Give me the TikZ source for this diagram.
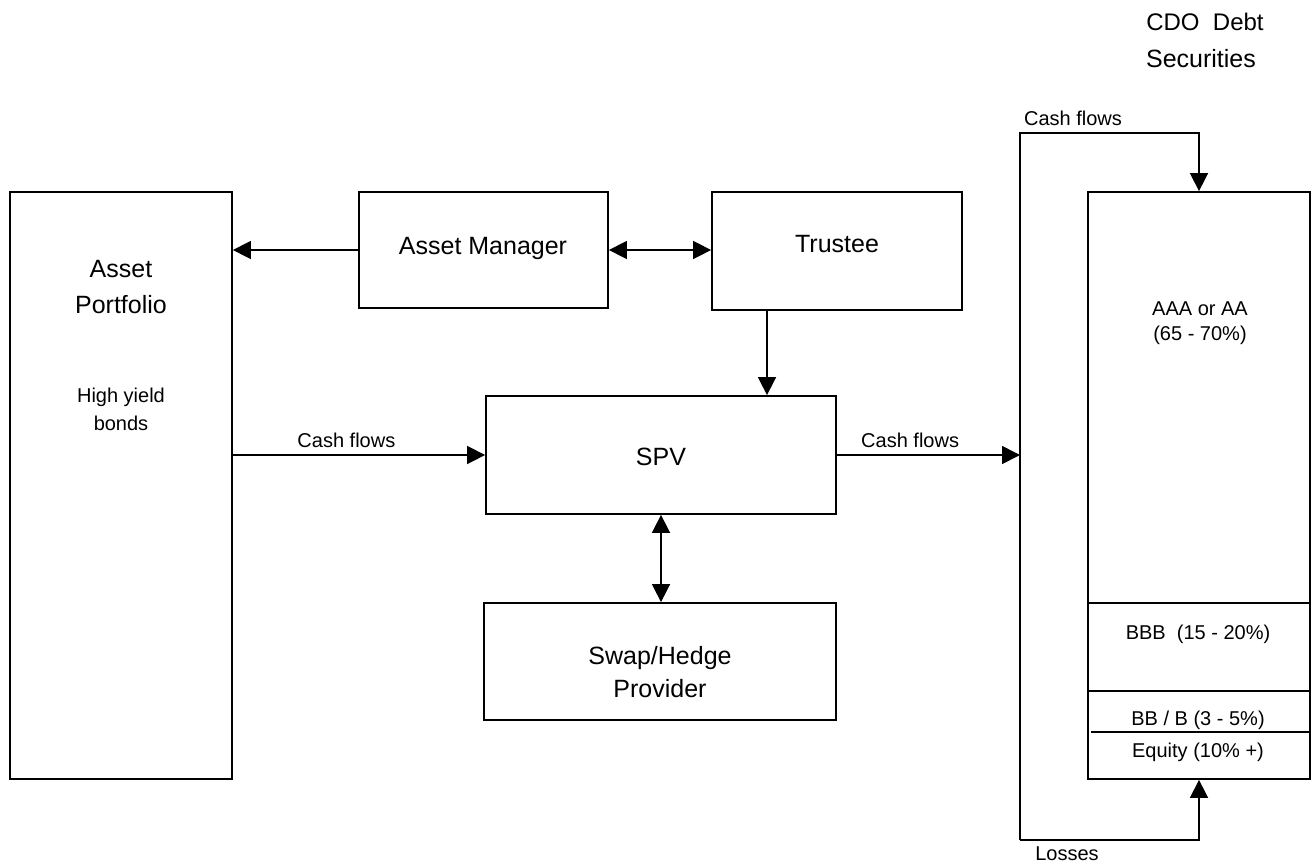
\documentclass[tikz,border=0pt]{standalone}
\usepackage{fontspec}
\setmainfont{Liberation Sans}
\usetikzlibrary{arrows.meta,fit,positioning}

\begin{document}
\begin{tikzpicture}[x=0.5pt,y=-0.5pt,
  >={Triangle[length=9pt,width=9pt]},
  box/.style={draw,line width=0.9pt,inner sep=0pt},
  line/.style={line width=0.8pt},
  big/.style={font=\fontsize{12.5}{15}\selectfont,anchor=base},
  small/.style={font=\fontsize{10}{12}\selectfont,anchor=base},
  lbl/.style={font=\fontsize{10}{12}\selectfont}]
\useasboundingbox (0,0) rectangle (1312,862);
% boxes
\node[box,fit={(10,192)(232,779)}] (port) {};
\node[box,fit={(359,192)(608,308)}] (am) {};
\node[box,fit={(712,192)(962,310)}] (tru) {};
\node[box,fit={(486,396)(836,514)}] (spv) {};
\node[box,fit={(484,603)(836,720)}] (swap) {};
\node[box,fit={(1088,192)(1310,779)}] (cdo) {};
% texts
\node[big] (portA) at (121,277) {Asset};
\node[big] (portB) at (121,313) {Portfolio};
\node[small] (portC) at (121,402) {High yield};
\node[small] (portD) at (121,430) {bonds};
\node[big] (amT) at (483,254) {Asset Manager};
\node[big] (truT) at (837,252) {Trustee};
\node[big] (spvT) at (661,465) {SPV};
\node[big] (swapA) at (660,664) {Swap/Hedge};
\node[big] (swapB) at (660,697) {Provider};
\node[big,font=\fontsize{12}{15}\selectfont] (cdoA) at (1205,30) {CDO\ \ Debt};
\node[big] (cdoB) at (1201,68) {Securities};
\node[small] (aaaA) at (1200,315) {AAA or AA};
\node[small] (aaaB) at (1200,340) {(65 - 70\%)};
\node[small] (bbb) at (1198,639) {BBB\ \ (15 - 20\%)};
\node[small] (bb) at (1198,725) {BB / B (3 - 5\%)};
\node[small] (eq) at (1198,757) {Equity (10\% +)};
% tranches
\foreach \yy in {603,691}
  \draw[line] (1088,\yy) -- (1310,\yy);
\draw[line] (1091,732) -- (1310,732);
% connectors
\coordinate (truS) at (767,310);
\coordinate (brkT) at (1020,133);
\coordinate (brkB) at (1020,840);
\draw[line,->] (am.west) -- (am.west -| port.east);
\draw[line,<->] (am.east) -- (am.east -| tru.west);
\draw[line,->] (truS) -- (truS |- spv.north);
\draw[line,->] (spv.west -| port.east) -- (spv.west) node[lbl,pos=0.45,above] {Cash flows};
\draw[line,->] (spv.east) -- (spv.east -| brkT) node[lbl,pos=0.4,above] {Cash flows};
\draw[line,<->] (spv.south) -- (spv.south |- swap.north);
\draw[line,->] (brkB) -- (brkT) -| (cdo.north);
\draw[line,->] (brkB) -| (cdo.south);
\node[small] (cfT) at (1073,125) {Cash flows};
\node[small] (lossT) at (1067,860) {Losses};
\end{tikzpicture}
\end{document}
